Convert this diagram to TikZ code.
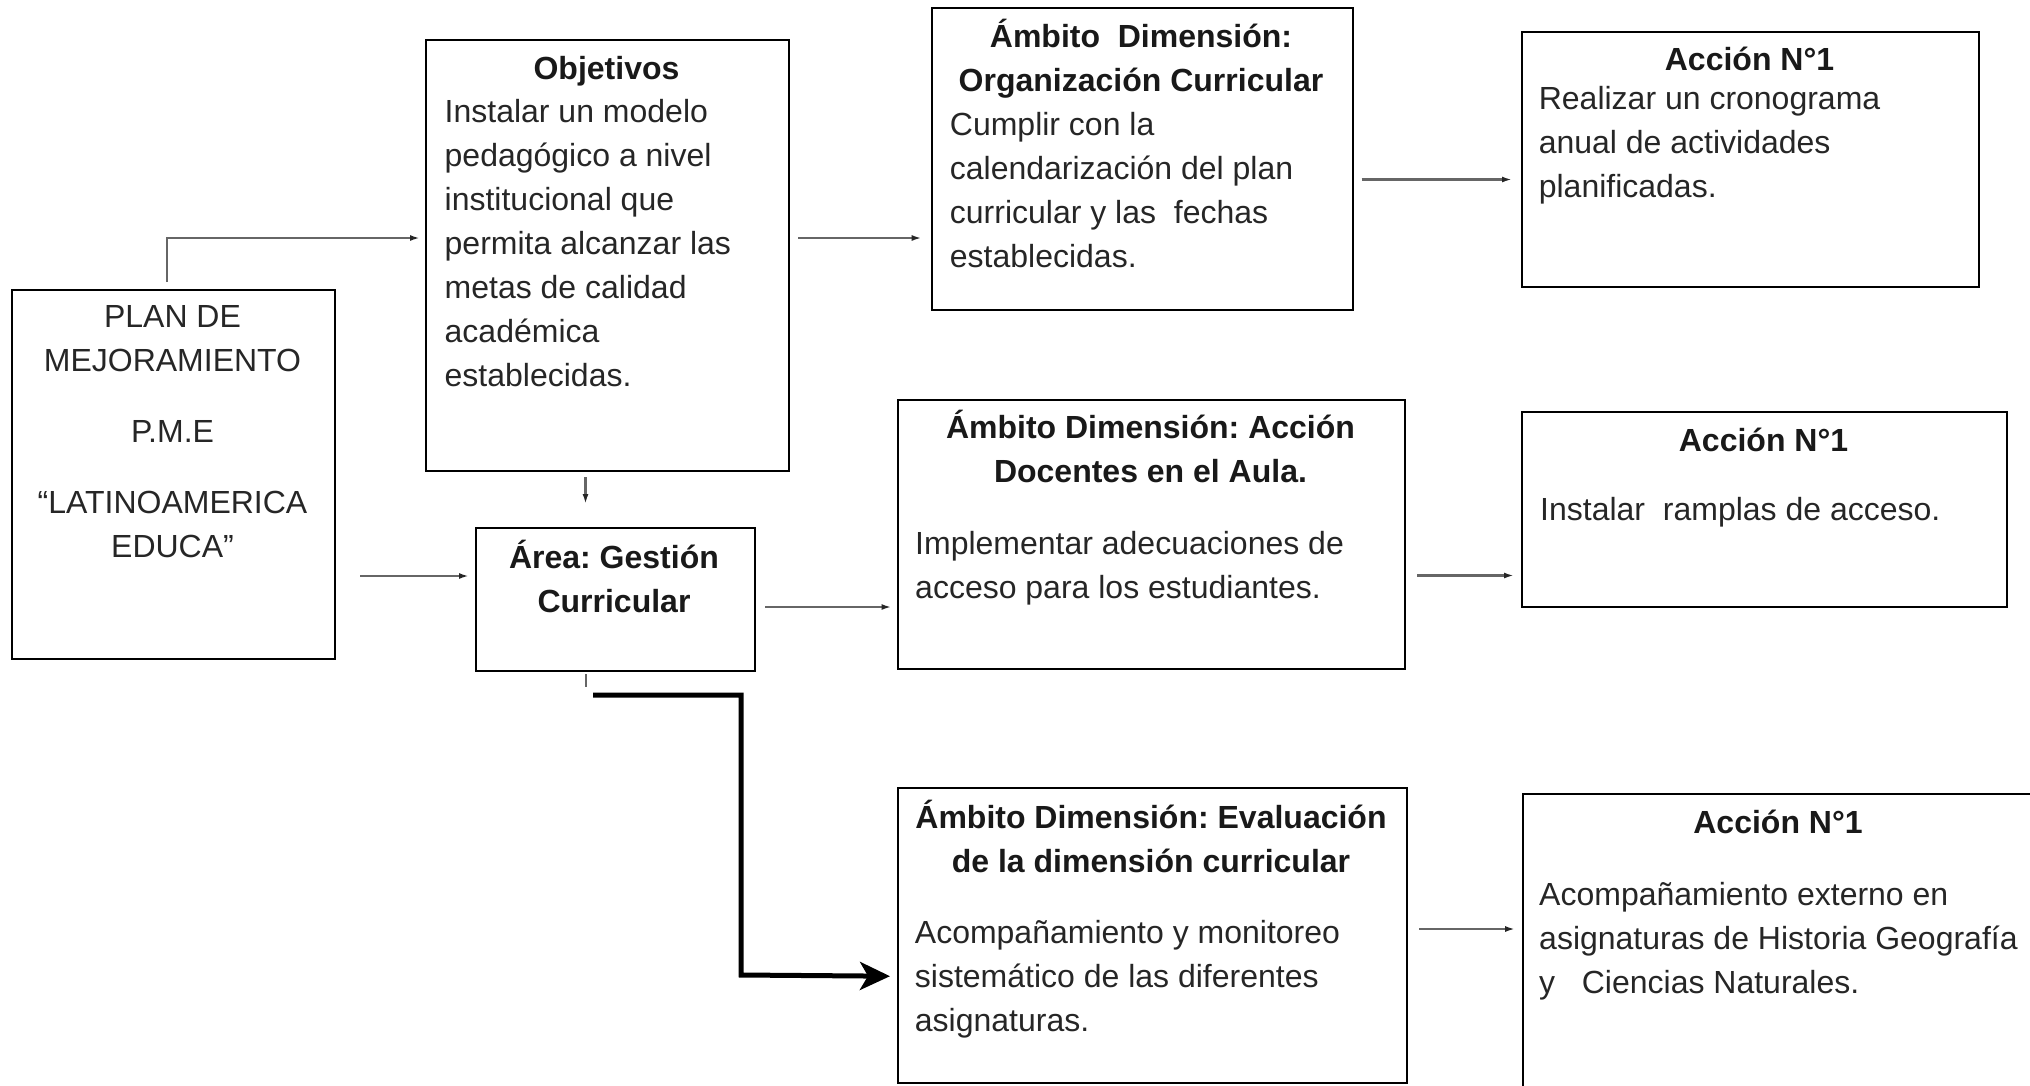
\documentclass[tikz,border=0pt]{standalone}
\usepackage{fontspec}
\setmainfont{Liberation Sans}
\usetikzlibrary{arrows.meta,calc}

\begin{document}
\begin{tikzpicture}[x=1pt,y=-1pt,
	box/.style={draw=black, line width=2pt, anchor=north west, inner sep=0pt},
	head/.style={anchor=base, align=center, inner sep=0pt, text=black!90, font=\fontsize{32}{44}\selectfont\bfseries\frenchspacing},
	body/.style={anchor=base west, align=left, inner sep=0pt, text=black!85, font=\fontsize{32}{44}\selectfont\frenchspacing},
	link/.style={draw=black!60, line width=2.5pt, -{Latex[length=10pt,width=6pt,color=black!85]}},
	bigarrow/.style={draw=black, line width=5pt, -{Stealth[length=30pt,width=28pt,inset=8pt]}}]
		\useasboundingbox (0,0) rectangle (2030,1085);
		\clip (0,0) rectangle (2030,1085);
		% text nodes sit on the baseline of their last line
		%PLAN 11-334 (289-658)
		\node[box, minimum width=323pt, minimum height=369pt] (plan) at (11,289) {};
		\node[body, anchor=base, align=center] (plantxt) at (172.5,557) {PLAN DE\\MEJORAMIENTO\\[27pt]P.M.E\\[27pt]“LATINOAMERICA\\EDUCA”};
		%Objetivos 425-788 (39-470)
		\node[box, minimum width=363pt, minimum height=431pt] (obj) at (425,39) {};
		\node[head] (objhead) at (606.5,79) {Objetivos};
		\node[body] (objtxt) at (444.5,386.6) {Instalar un modelo\\pedagógico a nivel\\institucional que\\permita alcanzar las\\metas de calidad\\académica\\establecidas.};
		%Area 474-754 (527-670)
		\node[box, minimum width=279.5pt, minimum height=143pt] (area) at (474.5,527) {};
		\node[head] (areahead) at (614,612) {Área: Gestión\\Curricular};
		%Organizacion 931-1352 (7-309)
		\node[box, minimum width=421pt, minimum height=302.3pt] (org) at (930.6,6.7) {};
		\node[head] (orghead) at (1141,91) {Ámbito~ Dimensión:\\Organización Curricular};
		\node[body] (orgtxt) at (949.7,267) {Cumplir con la\\calendarización del plan\\curricular y las~ fechas\\establecidas.};
		%Accion 1 1521-1978 (31-286)
		\node[box, minimum width=457pt, minimum height=255pt] (acc1) at (1521,31) {};
		\node[head] (acc1head) at (1749.5,70.5) {Acción N°1};
		\node[body] (acc1txt) at (1538.6,197) {Realizar un cronograma\\anual de actividades\\planificadas.};
		%Docentes 897-1404 (399-668)
		\node[box, minimum width=507pt, minimum height=269pt] (doc) at (897,399) {};
		\node[head] (dochead) at (1150.5,482) {Ámbito Dimensión: Acción\\Docentes en el Aula.};
		\node[body] (doctxt) at (915,598) {Implementar adecuaciones de\\acceso para los estudiantes.};
		%Accion 2 1521-2006 (411-606)
		\node[box, minimum width=485pt, minimum height=195pt] (acc2) at (1521,411) {};
		\node[head] (acc2head) at (1763.5,451.5) {Acción N°1};
		\node[body] (acc2txt) at (1540,520) {Instalar~ ramplas de acceso.};
		%Evaluacion 897-1406 (787-1082)
		\node[box, minimum width=508.5pt, minimum height=295pt] (eval) at (897,786.7) {};
		\node[head] (evalhead) at (1151,872) {Ámbito Dimensión: Evaluación\\de la dimensión curricular};
		\node[body] (evaltxt) at (914.7,1031) {Acompañamiento y monitoreo\\sistemático de las diferentes\\asignaturas.};
		%Accion 3 1522-2034 (793-cut)
		\node[box, minimum width=512.4pt, minimum height=320pt] (acc3) at (1521.6,792.7) {};
		\node[head] (acc3head) at (1778,833) {Acción N°1};
		\node[body] (acc3txt) at (1539,993) {Acompañamiento externo en\\asignaturas de Historia Geografía\\y~~ Ciencias Naturales.};

		%connectors
		\coordinate (r1) at (0,238);
		\coordinate (r2) at (0,179.5);
		\coordinate (r3) at (0,576);
		\coordinate (r4) at (0,607);
		\coordinate (r5) at (0,575.5);
		\coordinate (r6) at (0,929);
		\coordinate (c1) at (585.5,0);
		\draw[link, shorten >=5pt] ($(plan.north)+(-6.5,-7)$) |- (obj.west |- r1);
		\draw[link, shorten <=8pt, shorten >=9pt] (obj.east |- r1) -- (org.west |- r1);
		\draw[link, shorten <=8pt, shorten >=9pt] (org.east |- r2) -- (acc1.west |- r2);
		\draw[link, shorten <=24pt, shorten >=5.5pt] (plan.east |- r3) -- (area.west |- r3);
		\draw[link, shorten <=9pt, shorten >=5.5pt] (area.east |- r4) -- (doc.west |- r4);
		\draw[link, shorten <=11pt, shorten >=7pt] (doc.east |- r5) -- (acc2.west |- r5);
		\draw[link, shorten <=11.5pt, shorten >=6.5pt] (eval.east |- r6) -- (acc3.west |- r6);
		\draw[link, shorten <=5pt, shorten >=23pt] (obj.south -| c1) -- (area.north -| c1);
		\draw[draw=black!60, line width=2pt] ($(area.south -| c1)+(0,2)$) -- ++(0,13);
		\draw[bigarrow] ($(area.south -| c1)+(7.5,23)$) -| (741,975) -- ($(eval.west)+(-7,41)$);
	\end{tikzpicture}
\end{document}
